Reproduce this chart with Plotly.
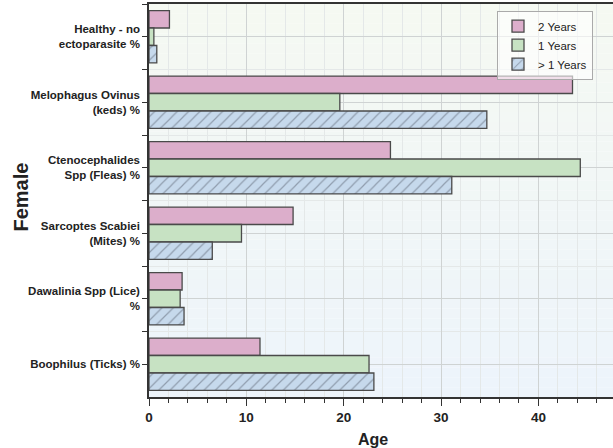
import plotly.graph_objects as go

categories = [
    "Healthy - no<br>ectoparasite %",
    "Melophagus Ovinus<br>(keds) %",
    "Ctenocephalides<br>Spp (Fleas) %",
    "Sarcoptes Scabiei<br>(Mites) %",
    "Dawalinia Spp (Lice)<br>%",
    "Boophilus (Ticks) %",
]
series_names = ["2 Years", "1 Years", "> 1 Years"]
two_years = [2.1, 43.5, 24.8, 14.8, 3.4, 11.4]
one_year = [0.5, 19.6, 44.3, 9.5, 3.2, 22.6]
over_one = [0.8, 34.7, 31.1, 6.5, 3.6, 23.1]
x_ticks = [0, 10, 20, 30, 40]

pos = list(range(len(categories)))
FONT = "Liberation Sans, Arial, sans-serif"
line = dict(color="#4a4a4a", width=1.3)

fig = go.Figure()
fig.add_trace(go.Bar(y=pos, x=two_years, orientation="h", name=series_names[0],
                     marker=dict(color="#dcaecb", line=line)))
fig.add_trace(go.Bar(y=pos, x=one_year, orientation="h", name=series_names[1],
                     marker=dict(color="#c7e2c3", line=line)))
fig.add_trace(go.Bar(y=pos, x=over_one, orientation="h", name=series_names[2],
                     marker=dict(color="#c6d9ec", line=line,
                                 pattern=dict(shape="/", fgcolor="#5a6270", bgcolor="#c6d9ec",
                                              size=8, solidity=0.15))))

# gradient background
n = 40
c_top = (245, 249, 242)
c_bot = (237, 244, 251)
for i in range(n):
    t = i / (n - 1)
    c = tuple(round(c_top[k] + (c_bot[k] - c_top[k]) * t) for k in range(3))
    fig.add_shape(type="rect", xref="x domain", yref="y domain",
                  x0=0, x1=1, y1=1 - i / n, y0=1 - (i + 1) / n,
                  fillcolor="rgb(%d,%d,%d)" % c, line=dict(width=0), layer="below")

fig.update_layout(
    width=613, height=448,
    margin=dict(l=149, r=0, t=4, b=51),
    paper_bgcolor="white", plot_bgcolor="white",
    barmode="group", bargap=0.2, bargroupgap=0,
    font=dict(family=FONT, color="#222"),
    showlegend=True,
    legend=dict(x=0.75, y=0.983, xanchor="left", yanchor="top",
                bgcolor="rgba(255,255,255,0.6)", bordercolor="#aaaaaa", borderwidth=1,
                font=dict(size=11.5, color="#222", family=FONT),
                tracegroupgap=0, itemwidth=30),
    xaxis=dict(range=[0, 47.66], tickvals=x_ticks, showline=True, linecolor="#333",
               linewidth=1.5, mirror=True, ticks="outside", ticklen=7, tickwidth=1.3,
               tickcolor="#333", tickfont=dict(size=13.5, weight="bold", color="#222"),
               showgrid=True, gridcolor="#cfd3d3", gridwidth=1, zeroline=False,
               automargin=False,
               minor=dict(dtick=2, ticks="outside", ticklen=4, tickcolor="#333",
                          showgrid=True, gridcolor="#e4e8e8", gridwidth=1)),
    yaxis=dict(range=[5.5, -0.5], tickmode="array", tickvals=pos, ticktext=categories,
               showline=True, linecolor="#333", linewidth=1.5, mirror=False,
               ticks="outside", ticklen=5, tickwidth=1.3, tickcolor="#333",
               tickfont=dict(size=11.5, weight="bold", color="#222"),
               showgrid=True, gridcolor="#cfd3d3", gridwidth=1, zeroline=False,
               automargin=False,
               minor=dict(tickvals=[p + 0.5 for p in pos[:-1]] + [-0.5],
                          ticks="outside", ticklen=5, tickcolor="#333",
                          showgrid=True, gridcolor="#e4e8e8", gridwidth=1)),
    annotations=[
        dict(text="Age", xref="paper", yref="paper", x=0.483, y=-0.107,
             xanchor="center", yanchor="middle",
             showarrow=False, font=dict(size=16, weight="bold", color="#222")),
        dict(text="Female", xref="paper", yref="paper", x=-0.276, y=0.51,
             xanchor="center", yanchor="middle",
             textangle=-90, showarrow=False, font=dict(size=20, weight="bold", color="#222")),
    ],
)

fig.write_html("out.html", config={"displayModeBar": False},
               post_script="document.body.style.margin='0';document.body.style.overflow='hidden';")
